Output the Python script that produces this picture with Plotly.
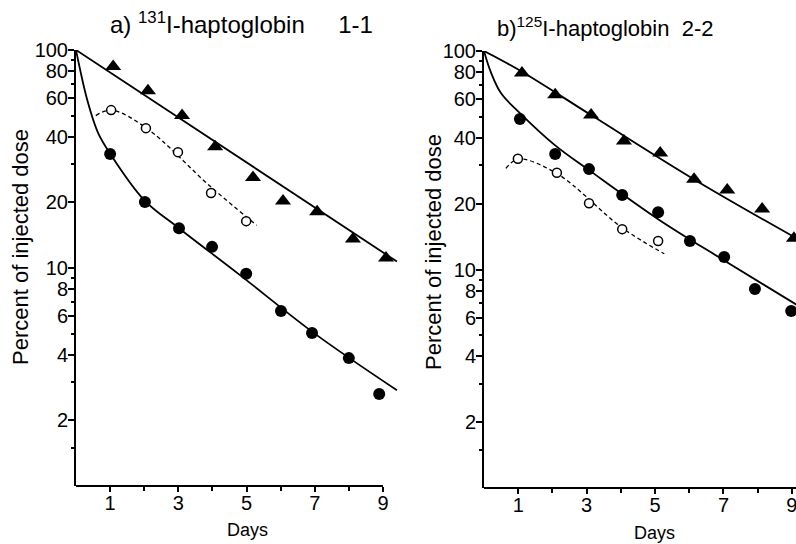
import plotly.graph_objects as go

# ---------------- data: panel a) 131I-haptoglobin 1-1 ----------------
a_tri_days = [1.09, 2.11, 3.11, 4.08, 5.19, 6.07, 7.07, 8.12, 9.09]
a_tri_vals = [84, 65, 50, 36, 26, 20.3, 18.1, 13.6, 11.1]
a_dot_days = [1.0, 2.02, 3.02, 3.99, 4.99, 6.01, 6.92, 8.0, 8.89]
a_dot_vals = [33.3, 20.1, 15.2, 12.5, 9.4, 6.35, 5.03, 3.86, 2.64]
a_open_days = [1.03, 2.05, 2.99, 3.96, 4.99]
a_open_vals = [53, 43.8, 34, 22.1, 16.4]
# fitted curves
a_tri_fit_x = [0, 9.41]
a_tri_fit_y = [100, 10.7]
a_dot_fit_x = [0, 0.33, 0.65, 1.0, 2.0, 3.0, 4.8, 7.0, 9.41]
a_dot_fit_y = [100, 59, 41.6, 33.5, 20.5, 15.3, 9.3, 5.0, 2.75]
a_open_fit_x = [0.58, 1.03, 2.05, 3.96, 5.3]
a_open_fit_y = [50, 53, 44, 23.5, 15.7]

# ---------------- data: panel b) 125I-haptoglobin 2-2 ----------------
b_tri_days = [1.11, 2.08, 3.13, 4.09, 5.15, 6.14, 7.11, 8.13, 9.06]
b_tri_vals = [79.3, 63, 50.9, 38.7, 34.1, 25.9, 23.1, 18.9, 13.9]
b_dot_days = [1.05, 2.08, 3.07, 4.04, 5.09, 6.02, 7.02, 7.92, 8.98]
b_dot_vals = [48.9, 33.8, 28.8, 21.9, 18.3, 13.5, 11.4, 8.15, 6.46]
b_open_days = [0.99, 2.13, 3.07, 4.04, 5.09]
b_open_vals = [32.1, 27.7, 20.1, 15.3, 13.5]
b_tri_fit_x = [0, 1.11, 3.13, 6.13, 9.2]
b_tri_fit_y = [100, 80.4, 50.9, 25.9, 13.7]
b_dot_fit_x = [0, 0.2, 0.5, 1.05, 2.08, 3.07, 5.09, 7.02, 9.2]
b_dot_fit_y = [100, 80, 64, 52, 37, 28.5, 17, 11, 6.8]
b_open_fit_x = [0.64, 1.0, 2.13, 4.04, 5.27]
b_open_fit_y = [29, 32, 27.5, 15.5, 11.8]

y_tick_vals = [2, 4, 6, 8, 10, 20, 40, 60, 80, 100]
y_minor_vals = [1.5, 3, 5, 7, 9, 30, 50, 70, 90]
x_tick_vals = [1, 3, 5, 7, 9]
x_minor_vals = [2, 4, 6, 8]

FONT = "Liberation Sans"
W, H = 796, 544
NB = "\u00a0"

fig = go.Figure()

def add_panel(xa, ya, tri_x, tri_y, dot_x, dot_y, op_x, op_y,
              tf_x, tf_y, df_x, df_y, of_x, of_y):
    common = dict(xaxis=xa, yaxis=ya, showlegend=False, hoverinfo="skip")
    fig.add_trace(go.Scatter(x=tf_x, y=tf_y, mode="lines", line=dict(color="black", width=1.8, shape="spline", smoothing=1.0), **common))
    fig.add_trace(go.Scatter(x=df_x, y=df_y, mode="lines", line=dict(color="black", width=1.8, shape="spline", smoothing=1.0), **common))
    fig.add_trace(go.Scatter(x=of_x, y=of_y, mode="lines", line=dict(color="black", width=1.3, dash="4px,3px", shape="spline", smoothing=1.0), **common))
    fig.add_trace(go.Scatter(x=tri_x, y=tri_y, mode="markers", cliponaxis=False,
                             marker=dict(symbol="triangle-up", size=14, color="black"), **common))
    fig.add_trace(go.Scatter(x=dot_x, y=dot_y, mode="markers", cliponaxis=False,
                             marker=dict(symbol="circle", size=12, color="black"), **common))
    fig.add_trace(go.Scatter(x=op_x, y=op_y, mode="markers", cliponaxis=False,
                             marker=dict(symbol="circle", size=9, color="white", line=dict(color="black", width=1.5)), **common))

add_panel("x", "y", a_tri_days, a_tri_vals, a_dot_days, a_dot_vals, a_open_days, a_open_vals,
          a_tri_fit_x, a_tri_fit_y, a_dot_fit_x, a_dot_fit_y, a_open_fit_x, a_open_fit_y)
add_panel("x2", "y2", b_tri_days, b_tri_vals, b_dot_days, b_dot_vals, b_open_days, b_open_vals,
          b_tri_fit_x, b_tri_fit_y, b_dot_fit_x, b_dot_fit_y, b_open_fit_x, b_open_fit_y)

def xaxis(domain, rng, anchor):
    return dict(domain=domain, range=rng, anchor=anchor, automargin=False, showgrid=False, zeroline=False,
                showline=False, tickmode="array", tickvals=x_tick_vals,
                ticktext=[str(v) for v in x_tick_vals], ticks="outside", ticklen=5, tickwidth=1.5,
                tickcolor="black", tickfont=dict(family=FONT, size=20, color="black"),
                ticklabelstandoff=-6, ticklabeloverflow="allow",
                minor=dict(tickvals=x_minor_vals, ticks="outside", ticklen=4, tickwidth=1.5, tickcolor="black"))

def yaxis(domain, anchor):
    return dict(domain=domain, type="log", range=[0, 2], anchor=anchor, automargin=False, showgrid=False,
                zeroline=False, showline=True, linecolor="black", linewidth=2, tickmode="array",
                tickvals=y_tick_vals, ticktext=[str(v) for v in y_tick_vals], ticks="outside", ticklen=6,
                tickwidth=1.5, tickcolor="black", tickfont=dict(family=FONT, size=20, color="black"),
                ticklabelstandoff=-4, ticklabeloverflow="allow",
                minor=dict(tickvals=y_minor_vals, ticks="outside", ticklen=3, tickwidth=1.5, tickcolor="black"))

fig.update_layout(
    width=W, height=H, margin=dict(l=0, r=0, t=0, b=0, autoexpand=False),
    paper_bgcolor="white", plot_bgcolor="white",
    xaxis=xaxis([76 / W, 400 / W], [0, 9.5], "y"),
    yaxis=yaxis([1 - 486 / H, 1 - 50 / H], "x"),
    xaxis2=xaxis([484 / W, 1.0], [0, 9.12], "y2"),
    yaxis2=yaxis([1 - 488 / H, 1 - 51 / H], "x2"),
)

# x axis lines
fig.add_shape(type="line", xref="x", yref="y domain", x0=0, x1=9, y0=0, y1=0, line=dict(color="black", width=2))
fig.add_shape(type="line", xref="x2", yref="y2 domain", x0=0, x1=9.12, y0=0, y1=0, line=dict(color="black", width=2))

annotations = [
    dict(text="a) <sup>131</sup>I-haptoglobin" + NB * 5 + "1-1", x=241 / W, y=1 - 23 / H, size=24),
    dict(text="b)<sup>125</sup>I-haptoglobin" + NB * 2 + "2-2", x=605 / W, y=1 - 27 / H, size=22),
    dict(text="Days", x=247 / W, y=1 - 530 / H, size=18),
    dict(text="Days", x=654 / W, y=1 - 533 / H, size=18),
    dict(text="Percent of injected dose", x=20 / W, y=1 - 247 / H, textangle=-90, size=22),
    dict(text="Percent of injected dose", x=433 / W, y=1 - 252 / H, textangle=-90, size=22),
]
for a in annotations:
    sz = a.pop("size")
    fig.add_annotation(xref="paper", yref="paper", showarrow=False, xanchor="center", yanchor="middle",
                       font=dict(family=FONT, size=sz, color="black"), **a)

fig.write_html("out.html", config={"displayModeBar": False},
               post_script="document.body.style.margin='0';document.body.style.overflow='hidden';")
